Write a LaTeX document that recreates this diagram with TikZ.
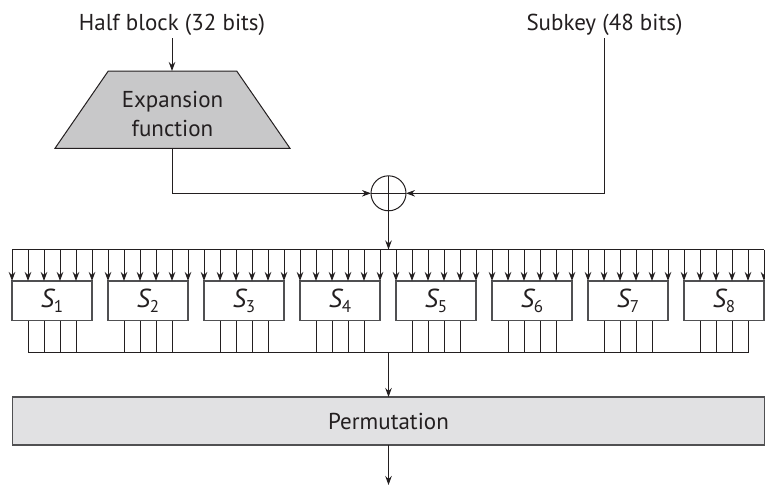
\documentclass[tikz,border=0pt]{standalone}
\usepackage{fontspec}
\setmainfont{PT Sans}
\usetikzlibrary{arrows.meta,calc}
\definecolor{ink}{HTML}{231F20}
\definecolor{boxedge}{HTML}{505052}
\definecolor{expfill}{HTML}{C8C8C9}
\definecolor{permfill}{HTML}{E1E1E3}
\begin{document}
\begin{tikzpicture}[x=1pt,y=-1pt,
  wire/.style={draw=ink, line width=1pt},
  arr/.style={wire, -{Stealth[length=9pt,width=6.5pt]}},
  lbl/.style={font=\fontsize{23}{29}\selectfont, text=ink, inner sep=0pt},
  sbox/.style={draw=boxedge, line width=1.4pt, fill=white, minimum width=80pt,
    minimum height=39.5pt, inner sep=0pt, outer sep=0pt, text=ink},
  xorbox/.style={circle, draw=ink, line width=1pt, minimum size=35pt, inner sep=0pt, outer sep=0pt},
  expshape/.style={draw=ink, line width=1pt, fill=expfill, line join=miter},
  permbox/.style={draw=boxedge, line width=1.3pt, fill=permfill, minimum width=752pt,
    minimum height=48pt, outer sep=0pt}
]
\useasboundingbox (0,0) rectangle (765,485);

% inputs
\node[lbl, anchor=base] (half) at (172,30) {Half block (32 bits)};
\node[lbl, anchor=base] (key) at (604.5,30) {Subkey (48 bits)};

% expansion function (trapezoid)
\coordinate (exptop) at (172.5,71);
\coordinate (expbot) at (172.5,148.3);
\draw[expshape] (108.3,71) -- (236.7,71) -- (290,148.3) -- (55,148.3) -- cycle;
\node[lbl, align=center] (exp) at (172.5,113.5) {Expansion\\function};

% xor
\node[xorbox] (xor) at (388.5,193.3) {};
\draw[wire] (xor.north) -- (xor.south) (xor.west) -- (xor.east);

\draw[arr] ([yshift=-3pt]half.south) -- (half.south |- exptop);
\draw[arr] (expbot) |- (xor.west);
\draw[arr] ([yshift=-3pt]key.south) |- (xor.east);

% distribution bus
\coordinate (busl) at (12,249.5);
\coordinate (busr) at (764,249.5);
\draw[wire] (busl) -- (busr);
\draw[arr] (xor.south) -- (xor.south |- busl);

% S-boxes
\foreach \k in {1,...,8} {
  \node[sbox] (s\k) at ({52+96*(\k-1)},300.75)
    {{\fontsize{26}{26}\selectfont\itshape S}{\fontsize{17}{17}\selectfont\raisebox{-4.5pt}{\k}}};
  \foreach \j in {0,...,5} {
    \coordinate (in\k\j) at ($(s\k.north west)!\j/5!(s\k.north east)$);
    \draw[arr] (in\k\j |- busl) -- (in\k\j);
  }
}

% collector
\coordinate (coll) at (388.5,352.5);
\foreach \k in {1,...,8} {
  \foreach \j in {1,...,4} {
    \coordinate (out\k\j) at ($(s\k.south west)!\j/5!(s\k.south east)$);
    \draw[wire] (out\k\j) -- (out\k\j |- coll);
  }
}
\draw[wire] (out11 |- coll) -- (out84 |- coll);

% permutation
\node[permbox, lbl] (perm) at (388.5,421) {Permutation};
\draw[arr] (coll) -- (perm.north);
\coordinate (fout) at (388.5,485);
\draw[arr] (perm.south) -- (fout);
\end{tikzpicture}
\end{document}
